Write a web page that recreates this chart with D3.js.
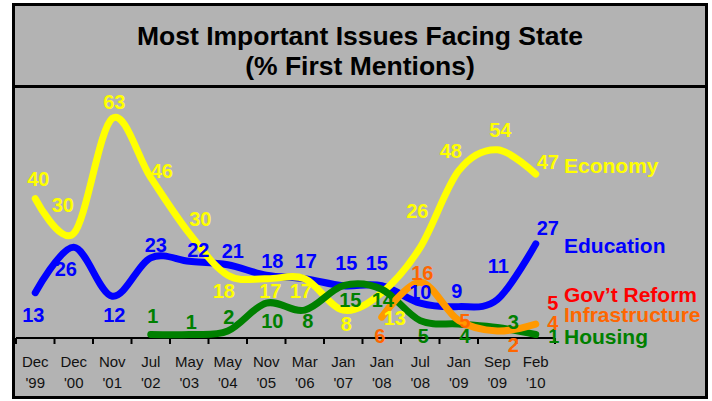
<!DOCTYPE html>
<meta charset="utf-8">
<style>
body { margin: 0; background: #fff; }
svg { display: block; }
text { font-family: "Liberation Sans", Arial, sans-serif; }
</style>
<svg id="chart" width="712" height="401"></svg>
<script src="https://cdn.jsdelivr.net/npm/d3@7"></script>
<script>
// category labels (two lines each)
var months = ["Dec","Dec","Nov","Jul","May","May","Nov","Mar","Jan","Jan","Jul","Jan","Sep","Feb"];
var years  = ["'99","'00","'01","'02","'03","'04","'05","'06","'07","'08","'08","'09","'09","'10"];

// % first mentions
var economy        = [40,30,63,46,30,18,17,17,8,13,26,48,54,47];
var education      = [13,26,12,23,22,21,18,17,15,15,10,9,11,27];
var housing        = [null,null,null,1,1,2,10,8,15,14,5,4,3,1];
var infrastructure = [null,null,null,null,null,null,null,null,null,6,16,5,2,4];
var govReform      = [null,null,null,null,null,null,null,null,null,null,null,null,null,5];

// hand placed value labels: [dx, dy] from the point to label centre / baseline
var econLab  = [[3,-13],[-11,-21],[2,-9],[11,0],[11,-7],[-4,23],[4,19],[-4,19],[3,21],[13,32],[-3,-29],[-8,-13],[3,-13],[12,-5]];
var eduLab   = [[-2,29],[-8,29],[2,26],[5,-6],[9,-4],[5,-7],[6,-7],[1,-11],[3,-16],[-5,-16],[0,-4],[-2,-9],[1,-27],[12,-9]];
var housLab  = [null,null,null,[2,-12],[2,-6],[1,-7],[6,25],[3,18],[7,21],[1,18],[3,22],[6,19],[16,1],[18,8]];
var infraLab = [null,null,null,null,null,null,null,null,null,[-2,26],[2,-2],[6,7],[16,21],[17,6]];
var govLab   = [null,null,null,null,null,null,null,null,null,null,null,null,null,[17,-11]];

var series = [
  {name: "Education",      values: education,      line: "#0000ff", text: "#0000ff", lab: eduLab,   nameY: 253},
  {name: "Economy",        values: economy,        line: "#ffff00", text: "#ffff00", lab: econLab,  nameY: 173},
  {name: "Housing",        values: housing,        line: "#008000", text: "#008000", lab: housLab,  nameY: 344},
  {name: "Infrastructure", values: infrastructure, line: "#ff9900", text: "#ff6600", lab: infraLab, nameY: 322},
  {name: "Gov\u2019t Reform", values: govReform,   line: "none",    text: "#ff0000", lab: govLab,   nameY: 302}
];

var svg = d3.select("#chart");

// frame + title panel
svg.append("rect")
    .attr("x", 13.5).attr("y", 4.5).attr("width", 693).attr("height", 393)
    .attr("fill", "#b3b3b3").attr("stroke", "#000").attr("stroke-width", 3);
svg.append("line")
    .attr("x1", 13.5).attr("x2", 706.5).attr("y1", 86.5).attr("y2", 86.5)
    .attr("stroke", "#000").attr("stroke-width", 3);

svg.append("text").attr("x", 360).attr("y", 45)
    .attr("text-anchor", "middle").attr("font-size", 26.5).attr("font-weight", "bold")
    .attr("textLength", 446).attr("lengthAdjust", "spacingAndGlyphs")
    .text("Most Important Issues Facing State");
svg.append("text").attr("x", 360).attr("y", 75)
    .attr("text-anchor", "middle").attr("font-size", 26.5).attr("font-weight", "bold")
    .text("(% First Mentions)");

var x = d3.scaleBand().domain(d3.range(months.length)).range([16, 555]);
var y = d3.scaleLinear().domain([0, 72]).range([338, 87]);
function cx(i) { return x(i) + x.bandwidth() / 2; }

// x axis: ticks at band edges, labels in the middle
var axis = svg.append("g");
axis.append("line").attr("x1", 16).attr("x2", 555).attr("y1", 338).attr("y2", 338)
    .attr("stroke", "#000").attr("stroke-width", 2);
axis.selectAll(".tk").data(d3.range(months.length + 1)).enter().append("line")
    .attr("x1", function(i){ return i < months.length ? x(i) : x.range()[1]; })
    .attr("x2", function(i){ return i < months.length ? x(i) : x.range()[1]; })
    .attr("y1", 338).attr("y2", 344)
    .attr("stroke", "#000").attr("stroke-width", 2);
axis.selectAll(".m").data(months).enter().append("text")
    .attr("x", function(d, i){ return cx(i); }).attr("y", 367)
    .attr("text-anchor", "middle").attr("font-size", 15).attr("fill", "#111")
    .text(function(d){ return d; });
axis.selectAll(".yr").data(years).enter().append("text")
    .attr("x", function(d, i){ return cx(i); }).attr("y", 388)
    .attr("text-anchor", "middle").attr("font-size", 15).attr("fill", "#111")
    .text(function(d){ return d; });

var line = d3.line()
    .defined(function(d){ return d != null; })
    .x(function(d, i){ return cx(i); })
    .y(function(d){ return y(d); })
    .curve(d3.curveCardinal.tension(0));

svg.append("g").selectAll("path").data(series.filter(function(s){ return s.line != "none"; }))
  .enter().append("path")
    .attr("d", function(s){ return line(s.values); })
    .attr("fill", "none")
    .attr("stroke", function(s){ return s.line; })
    .attr("stroke-width", 7)
    .attr("stroke-linecap", "round")
    .attr("stroke-linejoin", "round");

// value labels
series.forEach(function(s) {
  var pts = s.values.map(function(v, i){ return {v: v, i: i, o: s.lab[i]}; })
      .filter(function(p){ return p.v != null; });
  svg.append("g").selectAll("text").data(pts).enter().append("text")
      .attr("x", function(p){ return cx(p.i) + p.o[0]; })
      .attr("y", function(p){ return y(p.v) + p.o[1]; })
      .attr("text-anchor", "middle").attr("font-size", 20).attr("font-weight", "bold")
      .attr("fill", s.text)
      .text(function(p){ return p.v; });
});

// series names at the right end
svg.append("g").selectAll("text").data(series).enter().append("text")
    .attr("x", 564).attr("y", function(s){ return s.nameY; })
    .attr("font-size", 21).attr("font-weight", "bold")
    .attr("fill", function(s){ return s.text; })
    .text(function(s){ return s.name; });
</script>
